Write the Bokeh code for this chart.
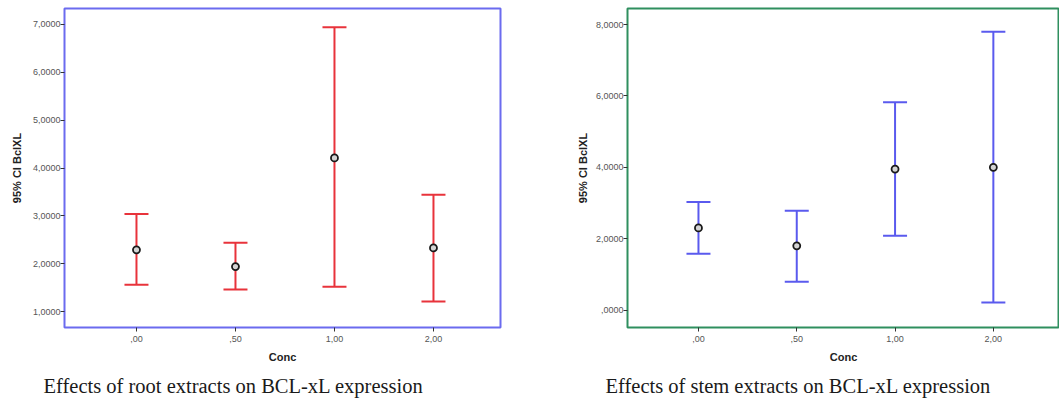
from bokeh.plotting import figure
from bokeh.layouts import row
from bokeh.models import ColumnDataSource, Whisker, TeeHead, FixedTicker, Range1d, Title
from bokeh.embed import file_html
from bokeh.resources import INLINE

# ---- data ----
conc_labels = [",00", ",50", "1,00", "2,00"]
conc_pos = [0, 1, 2, 3]

root_mean = [2.29, 1.94, 4.21, 2.33]
root_lower = [1.56, 1.46, 1.52, 1.21]
root_upper = [3.04, 2.44, 6.94, 3.44]

stem_mean = [2.30, 1.80, 3.95, 4.00]
stem_lower = [1.58, 0.79, 2.08, 0.21]
stem_upper = [3.03, 2.78, 5.82, 7.80]

root_yticks = [1, 2, 3, 4, 5, 6, 7]
root_ytick_labels = ["1,0000", "2,0000", "3,0000", "4,0000", "5,0000", "6,0000", "7,0000"]
stem_yticks = [0, 2, 4, 6, 8]
stem_ytick_labels = [",0000", "2,0000", "4,0000", "6,0000", "8,0000"]

y_title = "95% CI BclXL"
x_title = "Conc"
root_caption = "Effects of root extracts on BCL-xL expression"
stem_caption = "Effects of stem extracts on BCL-xL expression"

FONT = "Liberation Sans"
H = 403


def make_panel(mean, lower, upper, yticks, ylabels, yrange, xrange, color, frame_color,
               width, bl, br, caption, cap_offset, ylab_standoff):
    p = figure(width=width, height=H, output_backend="svg", toolbar_location=None,
               x_range=Range1d(*xrange), y_range=Range1d(*yrange),
               min_border_left=bl, min_border_right=br, min_border_top=8, min_border_bottom=75,
               background_fill_color="white", border_fill_color="white")
    p.grid.visible = False
    p.outline_line_color = frame_color
    p.outline_line_width = 2
    p.outline_line_alpha = 1.0

    src = ColumnDataSource(dict(x=conc_pos, mean=mean, lower=lower, upper=upper))
    w = Whisker(base="x", upper="upper", lower="lower", source=src,
                line_color=color, line_width=2,
                upper_head=TeeHead(size=24, line_color=color, line_width=2),
                lower_head=TeeHead(size=24, line_color=color, line_width=2))
    p.add_layout(w)
    p.scatter("x", "mean", source=src, marker="circle", size=7,
              fill_color="#d4d4d4", line_color="#1a1a1a", line_width=1.8)

    for ax in (p.xaxis[0], p.yaxis[0]):
        ax.axis_line_color = None
        ax.major_tick_line_color = "#333333"
        ax.major_tick_out = 4
        ax.major_tick_in = 0
        ax.minor_tick_line_color = None
        ax.major_label_text_font = FONT
        ax.major_label_text_font_size = "9px"
        ax.major_label_text_color = "#555555"
        ax.axis_label_text_font = FONT
        ax.axis_label_text_font_size = "11px"
        ax.axis_label_text_font_style = "bold"
        ax.axis_label_text_color = "#222222"

    p.xaxis.ticker = FixedTicker(ticks=conc_pos)
    p.xaxis.major_label_overrides = {k: v for k, v in zip(conc_pos, conc_labels)}
    p.xaxis.axis_label = x_title
    p.xaxis.major_label_standoff = 4
    p.xaxis.axis_label_standoff = 6

    p.yaxis.ticker = FixedTicker(ticks=yticks)
    p.yaxis.major_label_overrides = {k: v for k, v in zip(yticks, ylabels)}
    p.yaxis.axis_label = y_title
    p.yaxis.major_label_standoff = 0
    p.yaxis.axis_label_standoff = ylab_standoff

    t = Title(text=caption, align="left", offset=cap_offset,
              text_font="Liberation Serif", text_font_size="20.5px",
              text_font_style="normal", text_color="#1a1a1a", standoff=14)
    p.add_layout(t, "below")
    return p


p1 = make_panel(root_mean, root_lower, root_upper, root_yticks, root_ytick_labels,
                (0.667, 7.333), (-0.727, 3.677), "#e8333b", "#6b6bef",
                548, 64, 48, root_caption, -21, 7)
p2 = make_panel(stem_mean, stem_lower, stem_upper, stem_yticks, stem_ytick_labels,
                (-0.49, 8.45), (-0.722, 3.673), "#5a5aee", "#2f8f5f",
                511, 79, 0, stem_caption, -22, 4)

layout = row(p1, p2, spacing=0)
open("out.html", "w").write(file_html(layout, INLINE))
